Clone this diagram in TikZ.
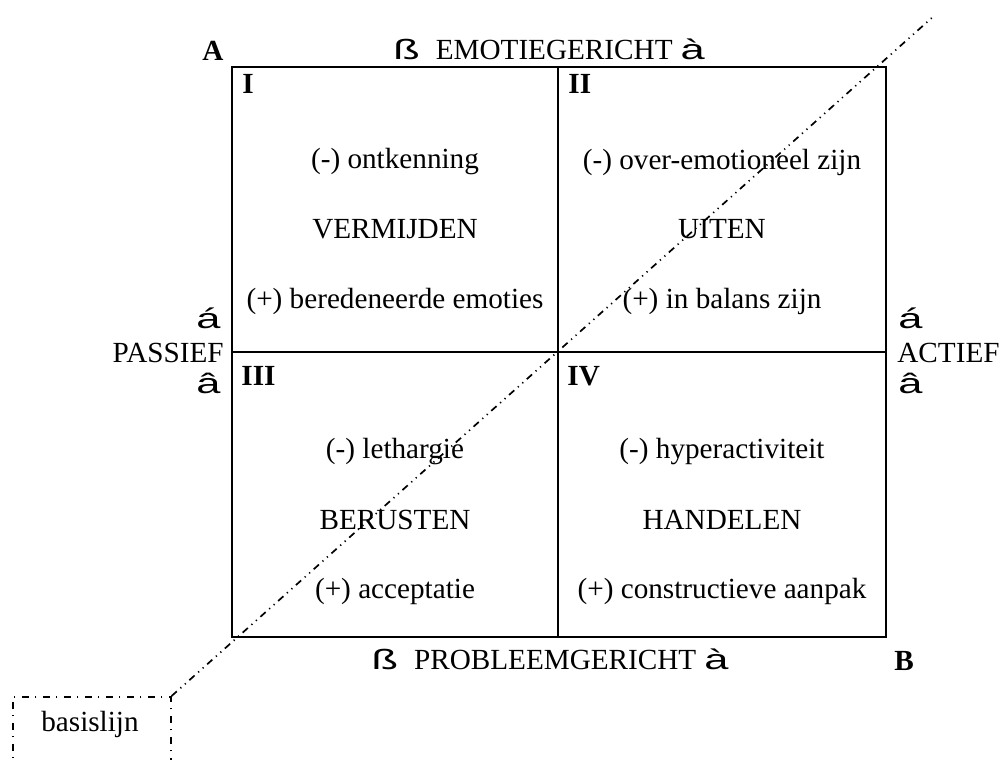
\documentclass[tikz,border=0pt]{standalone}
\usepackage{graphicx}
\usepackage{fontspec}
\setmainfont{Liberation Serif}
\newfontfamily\arialf{Liberation Sans}
\newcommand\wingsym[1]{\scalebox{1.55}[1]{\fontsize{14}{16}\selectfont\arialf #1}}
\begin{document}
\begin{tikzpicture}[x=0.5pt,y=-0.5pt,
  every node/.style={inner sep=0pt, font=\fontsize{14.6}{17}\selectfont},
  frame/.style={line width=1pt},
  num/.style={font=\fontsize{14.6}{17}\selectfont\bfseries},
  dashbox/.style={draw, line width=0.8pt, dash pattern=on 3.5pt off 3.2pt on 0.6pt off 3.2pt},
  diag/.style={line width=0.85pt, dash pattern=on 3.5pt off 2.4pt on 0.6pt off 2.4pt on 0.6pt off 2.4pt}]
\clip (0,0) rectangle (1002,760);
% frame
\coordinate (tl) at (232,67);
\coordinate (br) at (886,637);
\coordinate (tm) at (558,67);
\coordinate (bm) at (558,637);
\coordinate (ml) at (232,352);
\coordinate (mr) at (886,352);
\draw[frame] (tl) rectangle (br);
\draw[frame] (tm) -- (bm);
\draw[frame] (ml) -- (mr);
% basislijn
\node[dashbox, anchor=north west, minimum width=79pt, minimum height=60pt] (basebox) at (12,696) {};
\node (basetext) at (90,724) {basislijn};
\coordinate (diagend) at (935,15);
\draw[diag] (basebox.north east) -- (diagend);
% corners
\node[num, anchor=base] (A) at (213,61) {A};
\node[num, anchor=base] (B) at (904,670) {B};
% headings
\node[anchor=base] (emo) at (549,60) {\wingsym{ß}\hspace{8pt}EMOTIEGERICHT\hspace{4pt}\wingsym{à}};
\node[anchor=base] (prob) at (550,669) {\wingsym{ß}\hspace{8pt}PROBLEEMGERICHT\hspace{4pt}\wingsym{à}};
% sides
\node[anchor=base east] (upL) at (221,328) {\wingsym{á}};
\node[anchor=base east] (passief) at (224,362) {PASSIEF};
\node[anchor=base east] (downL) at (221,393) {\wingsym{â}};
\node[anchor=base west] (upR) at (898,328) {\wingsym{á}};
\node[anchor=base west] (actief) at (897,362) {ACTIEF};
\node[anchor=base west] (downR) at (898,393) {\wingsym{â}};
% numerals
\node[num, anchor=base west] (q1) at (242,93) {I};
\node[num, anchor=base west] (q2) at (568,93) {II};
\node[num, anchor=base west] (q3) at (241,385) {III};
\node[num, anchor=base west] (q4) at (567,385) {IV};
% quadrant I
\node (q1a) at (395,162) {(-) ontkenning};
\node (q1b) at (395,229) {VERMIJDEN};
\node (q1c) at (395,301) {(+) beredeneerde emoties};
% quadrant II
\node (q2a) at (722,162) {(-) over-emotioneel zijn};
\node (q2b) at (722,229) {UITEN};
\node (q2c) at (722,301) {(+) in balans zijn};
% quadrant III
\node (q3a) at (395,452) {(-) lethargie};
\node (q3b) at (395,520) {BERUSTEN};
\node (q3c) at (395,591) {(+) acceptatie};
% quadrant IV
\node (q4a) at (722,452) {(-) hyperactiviteit};
\node (q4b) at (722,520) {HANDELEN};
\node (q4c) at (722,591) {(+) constructieve aanpak};
\end{tikzpicture}
\end{document}
